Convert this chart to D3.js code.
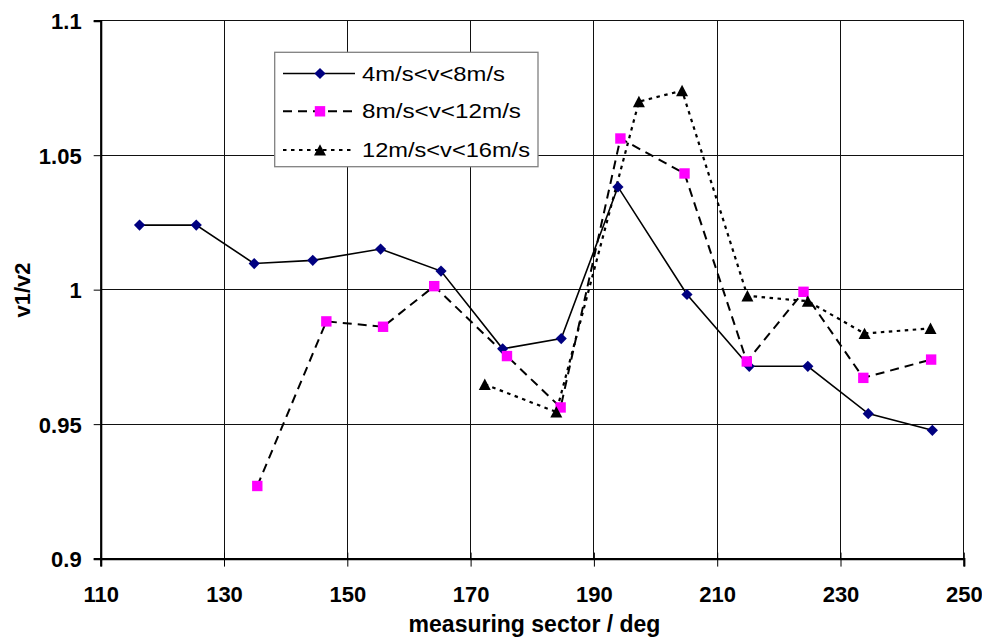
<!DOCTYPE html>
<html>
<head>
<meta charset="utf-8">
<script src="https://cdn.jsdelivr.net/npm/d3@7"></script>
<style>
  html, body { margin: 0; padding: 0; background: #fff; }
  svg { display: block; }
  text { font-family: "Liberation Sans", Arial, sans-serif; }
</style>
</head>
<body>
<svg id="chart" width="982" height="638"></svg>
<script>
// ---- data ----
const s1Names = "4m/s<v<8m/s";
const s2Names = "8m/s<v<12m/s";
const s3Names = "12m/s<v<16m/s";

const s1X = [116.3, 125.5, 134.9, 144.4, 155.4, 165.2, 175.2, 184.7, 193.9, 205.1, 215.2, 224.7, 234.5, 244.9];
const s1Y = [1.024, 1.024, 1.0097, 1.0109, 1.0151, 1.0069, 0.978, 0.9818, 1.0382, 0.9982, 0.9715, 0.9715, 0.9539, 0.9477];

const s2X = [135.4, 146.6, 155.8, 164.1, 175.9, 184.6, 194.3, 204.7, 214.8, 224.0, 233.7, 244.7];
const s2Y = [0.927, 0.9882, 0.9862, 1.0013, 0.9753, 0.9562, 1.0562, 1.0432, 0.9733, 0.9992, 0.9672, 0.974];

const s3X = [172.3, 183.9, 197.3, 204.3, 214.9, 224.7, 233.9, 244.6];
const s3Y = [0.9648, 0.9545, 1.0699, 1.074, 0.9977, 0.9957, 0.9837, 0.9856];

const xTicks = [110, 130, 150, 170, 190, 210, 230, 250];
const yTicks = [0.9, 0.95, 1, 1.05, 1.1];
const yTickLabels = ["0.9", "0.95", "1", "1.05", "1.1"];
const xTitle = "measuring sector / deg";
const yTitle = "v1/v2";

// ---- layout ----
const svg = d3.select("#chart");
const pLeft = 100.7, pRight = 963.8, pTop = 20.7, pBottom = 558.6;

const x = d3.scaleLinear().domain([110, 250]).range([pLeft, pRight]);
const y = d3.scaleLinear().domain([0.9, 1.1]).range([pBottom, pTop]);

// gridlines
const grid = svg.append("g").attr("shape-rendering", "crispEdges");
grid.selectAll("line.gx").data(xTicks.slice(1)).enter().append("line")
  .attr("x1", d => x(d)).attr("x2", d => x(d)).attr("y1", pTop).attr("y2", pBottom)
  .attr("stroke", "#111").attr("stroke-width", 1);
grid.selectAll("line.gy").data(yTicks.slice(1)).enter().append("line")
  .attr("x1", pLeft).attr("x2", pRight).attr("y1", d => y(d)).attr("y2", d => y(d))
  .attr("stroke", "#111").attr("stroke-width", 1);

// axes
const xAxis = d3.axisBottom(x).tickValues(xTicks).tickSize(8).tickFormat(d3.format("d"));
const gx = svg.append("g").attr("transform", `translate(0,${pBottom})`).call(xAxis);
gx.select(".domain").attr("stroke", "#000").attr("stroke-width", 2.2);
gx.selectAll(".tick line").attr("stroke", "#000").attr("stroke-width", 1).attr("y1", -6);
gx.selectAll(".tick text").attr("font-size", 22).attr("font-weight", "bold").attr("fill", "#000")
  .attr("y", 43).attr("dy", 0);

const yAxis = d3.axisLeft(y).tickValues(yTicks).tickSize(7).tickFormat((d, i) => yTickLabels[i]);
const gy = svg.append("g").attr("transform", `translate(${pLeft},0)`).call(yAxis);
gy.select(".domain").attr("stroke", "#000").attr("stroke-width", 2.2);
gy.selectAll(".tick line").attr("stroke", "#000").attr("stroke-width", 1).attr("x2", -7);
gy.selectAll(".tick text").attr("font-size", 22).attr("font-weight", "bold").attr("fill", "#000")
  .attr("x", -19).attr("dy", "0.36em");
svg.selectAll(".domain").attr("fill", "none");

// titles
svg.append("text").attr("x", 534.5).attr("y", 631.5)
  .attr("text-anchor", "middle").attr("font-size", 23).attr("font-weight", "bold").text(xTitle);
svg.append("text").attr("transform", "translate(29.5,290) rotate(-90)")
  .attr("text-anchor", "middle").attr("font-size", 22).attr("font-weight", "bold").text(yTitle);

// ---- series ----
const series = [
  { name: s1Names, xs: s1X, ys: s1Y, dash: null, width: 1.6, marker: "diamond" },
  { name: s2Names, xs: s2X, ys: s2Y, dash: "9,6", width: 2, marker: "square" },
  { name: s3Names, xs: s3X, ys: s3Y, dash: "3.5,4.5", width: 2.2, marker: "triangle" }
];

function markerPath(type) {
  if (type === "diamond") return "M0,-5.6L5.6,0L0,5.6L-5.6,0Z";
  if (type === "square") return "M-5.2,-5.2H5.2V5.2H-5.2Z";
  return "M0,-5.8L6,5.6L-6,5.6Z";
}
function markerFill(type) {
  if (type === "diamond") return "#000080";
  if (type === "square") return "#FF00FF";
  return "#000";
}

const line = d3.line().x(d => x(d[0])).y(d => y(d[1]));
series.forEach(s => {
  const pts = s.xs.map((v, i) => [v, s.ys[i]]);
  svg.append("path").datum(pts).attr("d", line)
    .attr("fill", "none").attr("stroke", "#000").attr("stroke-width", s.width)
    .attr("stroke-dasharray", s.dash);
});
series.forEach(s => {
  const pts = s.xs.map((v, i) => [v, s.ys[i]]);
  svg.append("g").selectAll("path").data(pts).enter().append("path")
    .attr("transform", d => `translate(${x(d[0])},${y(d[1])})`)
    .attr("d", markerPath(s.marker)).attr("fill", markerFill(s.marker));
});

// ---- legend ----
const lg = svg.append("g");
lg.append("rect").attr("x", 274.7).attr("y", 52.3).attr("width", 263.3).attr("height", 114.4)
  .attr("fill", "#fff").attr("stroke", "#808080").attr("stroke-width", 1.3);
const rowsY = [73.5, 111.3, 150];
const textW = [143, 159, 168];
series.forEach((s, i) => {
  const ry = rowsY[i];
  lg.append("line").attr("x1", 283).attr("x2", 355).attr("y1", ry).attr("y2", ry)
    .attr("stroke", "#000").attr("stroke-width", s.width).attr("stroke-dasharray", s.dash);
  lg.append("path").attr("transform", `translate(320,${ry})`)
    .attr("d", markerPath(s.marker)).attr("fill", markerFill(s.marker));
  lg.append("text").attr("x", 362).attr("y", ry + 7).attr("font-size", 20)
    .attr("textLength", textW[i]).attr("lengthAdjust", "spacingAndGlyphs")
    .text(s.name);
});
</script>
</body>
</html>
